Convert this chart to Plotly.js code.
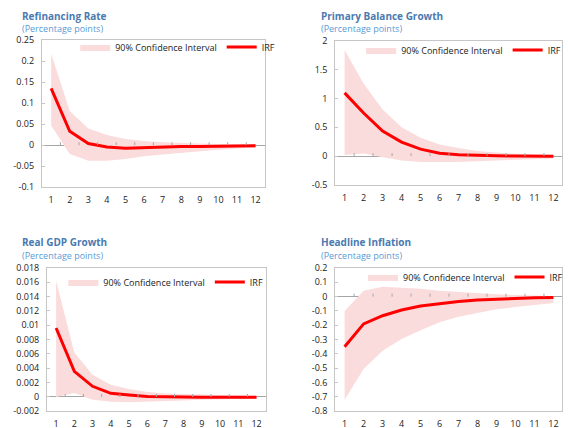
<!DOCTYPE html>
<html>
<head>
<meta charset="utf-8">
<script src="https://cdn.plot.ly/plotly-3.0.1.min.js"></script>
<style>html,body{margin:0;padding:0;background:#fff;}#chart{width:568px;height:428px;}</style>
</head>
<body>
<div id="chart"></div>
<script>
// ---- data ----
const horizons = [1,2,3,4,5,6,7,8,9,10,11,12];

const refiTitle = "Refinancing Rate";
const refiIRF   = [0.135,0.033,0.004,-0.004,-0.007,-0.0055,-0.005,-0.003,-0.003,-0.002,-0.0015,-0.001];
const refiUpper = [0.218,0.081,0.040,0.024,0.015,0.010,0.007,0.005,0.004,0.003,0.003,0.002];
const refiLower = [0.047,-0.021,-0.037,-0.037,-0.033,-0.026,-0.022,-0.018,-0.014,-0.011,-0.008,-0.006];
const refiTickVals = [-0.1,-0.05,0,0.05,0.1,0.15,0.2,0.25];
const refiTickText = ["-0.1","-0.05","0","0.05","0.1","0.15","0.2","0.25"];

const pbTitle = "Primary Balance Growth";
const pbIRF   = [1.096,0.748,0.435,0.243,0.122,0.052,0.023,0.012,0.006,0.003,0.001,0.0];
const pbUpper = [1.84,1.26,0.81,0.50,0.32,0.20,0.14,0.087,0.064,0.04,0.03,0.02];
const pbLower = [0.02,0.046,-0.02,-0.075,-0.10,-0.105,-0.10,-0.087,-0.075,-0.064,-0.052,-0.04];
const pbTickVals = [-0.5,0,0.5,1,1.5,2];
const pbTickText = ["-0.5","0","0.5","1","1.5","2"];

const gdpTitle = "Real GDP Growth";
const gdpIRF   = [0.00963,0.00358,0.00149,0.00051,0.00028,0.00005,0.00003,-0.00005,-0.00005,-0.00005,-0.00005,-0.00005];
const gdpUpper = [0.0162,0.0062,0.0031,0.0017,0.0011,0.0007,0.0005,0.0004,0.0003,0.00025,0.0002,0.00015];
const gdpLower = [0.0,0.00056,-0.0004,-0.00065,-0.00075,-0.0007,-0.0006,-0.0005,-0.0004,-0.0003,-0.00028,-0.0002];
const gdpTickVals = [-0.002,0,0.002,0.004,0.006,0.008,0.01,0.012,0.014,0.016,0.018];
const gdpTickText = ["-0.002","0","0.002","0.004","0.006","0.008","0.01","0.012","0.014","0.016","0.018"];

const infTitle = "Headline Inflation";
const infIRF   = [-0.349,-0.19,-0.133,-0.093,-0.065,-0.047,-0.033,-0.023,-0.016,-0.012,-0.007,-0.005];
const infUpper = [-0.10,0.042,0.07,0.065,0.056,0.042,0.033,0.026,0.016,0.012,0.007,0.005];
const infLower = [-0.72,-0.505,-0.377,-0.295,-0.235,-0.179,-0.14,-0.112,-0.088,-0.072,-0.056,-0.044];
const infTickVals = [-0.8,-0.7,-0.6,-0.5,-0.4,-0.3,-0.2,-0.1,0,0.1,0.2];
const infTickText = ["-0.8","-0.7","-0.6","-0.5","-0.4","-0.3","-0.2","-0.1","0","0.1","0.2"];

const subtitle = "(Percentage points)";
const bandName = "90% Confidence Interval";
const lineName = "IRF";

// ---- styling / layout ----
const W = 568, H = 428;
const FONT = "Open Sans, Noto Sans, sans-serif";
const BAND = "rgb(251,220,220)";
const RED = "#ff0000";
const FRAME = "#c6c6c6";
const ZERO = "#a6a6a6";
const FS = 9;

const panels = [
  {t: refiTitle, irf: refiIRF, up: refiUpper, lo: refiLower, tv: refiTickVals, tt: refiTickText,
   range: [-0.1,0.25], px: [42.3,267.7], py: [40,187.3], xr:[0.5,12.5], tx: 21.5, ty: 15.5, lx: 76, ly: 47},
  {t: pbTitle, irf: pbIRF, up: pbUpper, lo: pbLower, tv: pbTickVals, tt: pbTickText,
   range: [-0.5,2], px: [338.7,568], py: [40.7,185], xr:[0.5,12.45], tx: 323.3, ty: 15.5, lx: 365, ly: 50},
  {t: gdpTitle, irf: gdpIRF, up: gdpUpper, lo: gdpLower, tv: gdpTickVals, tt: gdpTickText,
   range: [-0.002,0.018], px: [47.5,268.5], py: [268,411.3], xr:[0.5,12.5], tx: 21.5, ty: 242.5, lx: 64, ly: 282},
  {t: infTitle, irf: infIRF, up: infUpper, lo: infLower, tv: infTickVals, tt: infTickText,
   range: [-0.8,0.2], px: [338.7,568], py: [268,411.3], xr:[0.5,12.45], tx: 323.3, ty: 242.5, lx: 367, ly: 277}
];

const traces = [];
const layout = {
  width: W, height: H, margin: {l:0,r:0,t:0,b:0},
  paper_bgcolor: "#fff", plot_bgcolor: "#fff",
  font: {family: FONT, size: FS, color: "#222"},
  showlegend: true,
  annotations: [], shapes: []
};

panels.forEach((p, i) => {
  const n = i + 1;
  const xa = "x" + (n === 1 ? "" : n), ya = "y" + (n === 1 ? "" : n);
  const lg = "legend" + (n === 1 ? "" : n);
  traces.push({x: horizons, y: p.lo, xaxis: xa, yaxis: ya, type: "scatter", mode: "lines",
    line: {width: 0, color: BAND}, hoverinfo: "skip", showlegend: false, legend: lg});
  traces.push({x: horizons, y: p.up, xaxis: xa, yaxis: ya, type: "scatter", mode: "lines",
    fill: "tonexty", fillcolor: BAND, line: {width: 0, color: BAND}, name: bandName, legend: lg});
  traces.push({x: horizons, y: p.irf, xaxis: xa, yaxis: ya, type: "scatter", mode: "lines",
    line: {width: 3, color: RED}, name: lineName, legend: lg});

  layout["xaxis" + (n === 1 ? "" : n)] = {
    domain: [p.px[0]/W, p.px[1]/W], anchor: ya, range: p.xr,
    tickvals: horizons, ticktext: horizons.map(String), ticks: "", showgrid: false, zeroline: false,
    showline: true, mirror: true, linecolor: FRAME, linewidth: 1,
    tickfont: {size: FS, color: "#222"}, ticklabelstandoff: 4, fixedrange: true
  };
  layout["yaxis" + (n === 1 ? "" : n)] = {
    domain: [1 - p.py[1]/H, 1 - p.py[0]/H], anchor: xa, range: p.range,
    tickvals: p.tv, ticktext: p.tt, ticks: "inside", ticklen: 3, tickcolor: FRAME,
    showgrid: false, zeroline: true, zerolinecolor: ZERO, zerolinewidth: 1,
    showline: true, mirror: true, linecolor: FRAME, linewidth: 1,
    tickfont: {size: FS, color: "#222"}, ticklabelstandoff: 5, fixedrange: true
  };
  layout[lg] = {
    x: p.lx / W, y: 1 - p.ly / H, xanchor: "left", yanchor: "middle",
    orientation: "h", traceorder: "normal", bgcolor: "rgba(0,0,0,0)", borderwidth: 0,
    font: {family: FONT, size: FS, color: "#222"}, itemwidth: 30, tracegroupgap: 0
  };
  layout.annotations.push({xref: "paper", yref: "paper", x: p.tx / W, y: 1 - p.ty / H,
    xanchor: "left", yanchor: "middle", showarrow: false, text: "<b>" + p.t + "</b>",
    font: {family: FONT, size: 10, color: "#4a7ab0"}, borderpad: 0});
  layout.annotations.push({xref: "paper", yref: "paper", x: p.tx / W, y: 1 - (p.ty + 12.5) / H,
    xanchor: "left", yanchor: "middle", showarrow: false, text: subtitle,
    font: {family: FONT, size: 9, color: "#5b9bd5"}, borderpad: 0});
  // category boundary tick marks on the zero axis
  horizons.slice(0, -1).forEach(h => {
    layout.shapes.push({type: "line", xref: xa, yref: ya, x0: h + 0.5, x1: h + 0.5,
      ysizemode: "pixel", yanchor: 0, y0: 0, y1: 3, line: {color: ZERO, width: 1}, layer: "above"});
  });
});

Plotly.newPlot("chart", traces, layout, {displayModeBar: false, staticPlot: true});
</script>
</body>
</html>
